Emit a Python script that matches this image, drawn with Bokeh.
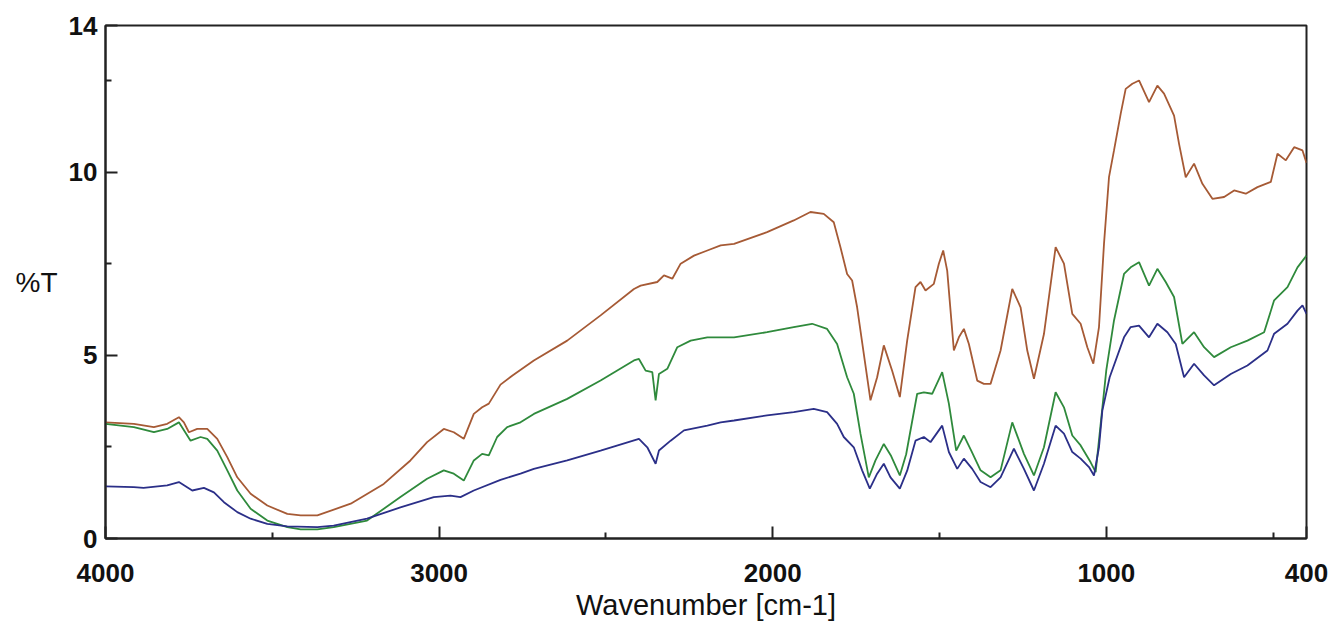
from bokeh.plotting import figure
from bokeh.models import Range1d, FixedTicker, CustomJSTickFormatter
from bokeh.embed import file_html
from bokeh.resources import INLINE

# ---- data ----
brown_wn = [4000, 3915, 3855, 3815, 3780, 3765, 3750, 3725, 3695, 3665, 3635, 3605, 3565, 3515, 3455, 3415, 3365,
            3265, 3166, 3086, 3036, 2986, 2956, 2926, 2896, 2871, 2851, 2816, 2780, 2716, 2616, 2516, 2416, 2396,
            2346, 2326, 2301, 2276, 2236, 2196, 2156, 2116, 2017, 1937, 1887, 1847, 1817, 1797, 1777, 1762, 1747,
            1727, 1707, 1687, 1667, 1642, 1619, 1597, 1572, 1557, 1542, 1517, 1502, 1489, 1477, 1457, 1442, 1427,
            1412, 1387, 1367, 1347, 1317, 1282, 1257, 1237, 1217, 1187, 1152, 1127, 1102, 1077, 1057, 1039, 1022,
            1007, 992, 977, 957, 942, 922, 902, 872, 847, 827, 797, 782, 762, 737, 712, 682, 647, 617, 582, 547,
            507, 487, 462, 437, 412, 400]
brown_t = [3.17, 3.13, 3.04, 3.13, 3.31, 3.17, 2.90, 2.99, 2.99, 2.72, 2.22, 1.67, 1.22, 0.90, 0.67, 0.63, 0.63,
           0.95, 1.49, 2.13, 2.63, 2.99, 2.90, 2.72, 3.40, 3.58, 3.68, 4.20, 4.45, 4.86, 5.40, 6.09, 6.81, 6.90,
           7.00, 7.18, 7.09, 7.50, 7.72, 7.86, 8.00, 8.04, 8.36, 8.68, 8.91, 8.86, 8.63, 7.95, 7.22, 7.04, 6.31,
           5.04, 3.77, 4.40, 5.27, 4.58, 3.86, 5.40, 6.86, 7.00, 6.77, 6.95, 7.50, 7.86, 7.31, 5.13, 5.49, 5.72,
           5.31, 4.31, 4.22, 4.22, 5.13, 6.81, 6.31, 5.13, 4.36, 5.58, 7.95, 7.50, 6.13, 5.86, 5.22, 4.77, 5.77,
           8.04, 9.86, 10.59, 11.59, 12.27, 12.41, 12.50, 11.91, 12.36, 12.14, 11.54, 10.77, 9.86, 10.23, 9.68,
           9.27, 9.32, 9.50, 9.41, 9.59, 9.73, 10.50, 10.32, 10.68, 10.59, 10.25]

green_wn = [4000, 3915, 3855, 3815, 3780, 3745, 3715, 3695, 3665, 3635, 3605, 3565, 3515, 3455, 3415, 3365, 3316,
            3216, 3116, 3036, 2986, 2956, 2926, 2896, 2871, 2851, 2826, 2796, 2756, 2716, 2616, 2516, 2416, 2401,
            2381, 2361, 2351, 2341, 2316, 2286, 2246, 2196, 2116, 2017, 1937, 1882, 1837, 1807, 1777, 1757, 1737,
            1712, 1692, 1667, 1645, 1619, 1600, 1567, 1547, 1522, 1492, 1472, 1450, 1427, 1405, 1377, 1347, 1317,
            1282, 1247, 1217, 1187, 1152, 1127, 1102, 1077, 1047, 1032, 1017, 1000, 977, 947, 927, 902, 872, 847,
            822, 797, 772, 737, 707, 677, 627, 577, 527, 497, 457, 427, 400]
green_t = [3.13, 3.04, 2.90, 2.99, 3.17, 2.67, 2.77, 2.72, 2.40, 1.86, 1.31, 0.81, 0.49, 0.31, 0.25, 0.25, 0.31,
           0.49, 1.13, 1.63, 1.86, 1.77, 1.58, 2.13, 2.31, 2.27, 2.77, 3.04, 3.17, 3.40, 3.81, 4.31, 4.86, 4.90,
           4.58, 4.54, 3.77, 4.49, 4.63, 5.22, 5.40, 5.49, 5.49, 5.63, 5.77, 5.86, 5.72, 5.31, 4.40, 3.95, 2.86,
           1.67, 2.13, 2.58, 2.25, 1.72, 2.30, 3.95, 3.99, 3.95, 4.54, 3.68, 2.40, 2.81, 2.40, 1.86, 1.67, 1.86,
           3.17, 2.31, 1.72, 2.49, 3.99, 3.58, 2.81, 2.54, 2.08, 1.81, 3.13, 4.60, 5.95, 7.22, 7.40, 7.54, 6.90,
           7.36, 7.00, 6.59, 5.31, 5.63, 5.22, 4.95, 5.22, 5.40, 5.63, 6.50, 6.86, 7.40, 7.72]

blue_wn = [4000, 3915, 3886, 3815, 3780, 3740, 3705, 3675, 3645, 3605, 3565, 3515, 3455, 3365, 3316, 3216, 3116,
           3016, 2966, 2936, 2896, 2816, 2756, 2716, 2616, 2516, 2401, 2376, 2351, 2341, 2306, 2266, 2196, 2156,
           2116, 2017, 1937, 1877, 1837, 1807, 1787, 1757, 1732, 1709, 1687, 1667, 1647, 1619, 1597, 1572, 1547,
           1527, 1492, 1472, 1447, 1427, 1402, 1377, 1347, 1317, 1277, 1247, 1217, 1187, 1152, 1127, 1102, 1077,
           1052, 1037, 1022, 1012, 990, 947, 927, 902, 872, 847, 817, 792, 767, 737, 707, 677, 627, 577, 517, 497,
           457, 427, 412, 400]
blue_t = [1.42, 1.40, 1.38, 1.45, 1.54, 1.31, 1.38, 1.26, 0.99, 0.72, 0.54, 0.40, 0.33, 0.31, 0.35, 0.54, 0.85,
          1.13, 1.17, 1.13, 1.31, 1.60, 1.77, 1.90, 2.13, 2.40, 2.72, 2.49, 2.04, 2.40, 2.67, 2.95, 3.08, 3.17,
          3.22, 3.36, 3.45, 3.54, 3.45, 3.13, 2.77, 2.49, 1.86, 1.36, 1.77, 2.04, 1.67, 1.36, 1.85, 2.67, 2.77,
          2.63, 3.08, 2.36, 1.90, 2.18, 1.90, 1.54, 1.40, 1.67, 2.45, 1.90, 1.31, 2.04, 3.08, 2.86, 2.36, 2.18,
          1.95, 1.72, 2.49, 3.49, 4.40, 5.49, 5.77, 5.81, 5.49, 5.86, 5.63, 5.31, 4.40, 4.77, 4.45, 4.18, 4.49,
          4.72, 5.13, 5.59, 5.86, 6.22, 6.36, 6.13]

x_ticks = [4000, 3000, 2000, 1000, 400]
x_minor = [3500, 2500, 1500, 500]
y_ticks = [0, 5, 10, 14]
y_minor = [2.5, 7.5, 12.5]

FONT = "Liberation Sans"

p = figure(width=1331, height=626, output_backend="svg", toolbar_location=None,
           x_range=Range1d(4000, 400), y_range=Range1d(0, 14),
           min_border_left=105, min_border_right=25, min_border_top=25, min_border_bottom=88)
p.background_fill_color = "white"
p.border_fill_color = "white"
p.outline_line_color = "#222222"
p.outline_line_width = 2
p.grid.visible = False

p.line(brown_wn, brown_t, line_color="#a65a35", line_width=1.8)
p.line(green_wn, green_t, line_color="#2f8a3c", line_width=1.8)
p.line(blue_wn, blue_t, line_color="#2b2f88", line_width=1.8)

for ax in (p.xaxis[0], p.yaxis[0]):
    ax.axis_line_color = "#222222"
    ax.axis_line_width = 2
    ax.major_tick_line_color = "#222222"
    ax.minor_tick_line_color = "#222222"
    ax.major_tick_line_width = 2
    ax.minor_tick_line_width = 2
    ax.major_tick_in = 12
    ax.major_tick_out = 0
    ax.minor_tick_in = 6
    ax.minor_tick_out = 0
    ax.major_label_text_font = FONT
    ax.major_label_text_font_style = "bold"
    ax.major_label_text_font_size = "26px"
    ax.major_label_text_color = "#111111"
    ax.axis_label_text_font = FONT
    ax.axis_label_text_font_style = "normal"
    ax.axis_label_text_color = "#111111"

p.xaxis.ticker = FixedTicker(ticks=x_ticks, minor_ticks=x_minor)
p.yaxis.ticker = FixedTicker(ticks=y_ticks, minor_ticks=y_minor)
p.xaxis.formatter = CustomJSTickFormatter(code="return tick.toFixed(0);")
p.yaxis.formatter = CustomJSTickFormatter(code="return tick.toFixed(0);")

p.xaxis.axis_label = "Wavenumber [cm-1]"
p.xaxis.axis_label_text_font_size = "29px"
p.xaxis.major_label_standoff = 25
p.xaxis.axis_label_standoff = 4

p.yaxis.axis_label = "%T"
p.yaxis.axis_label_text_font_size = "28px"
p.yaxis.axis_label_orientation = "horizontal"
p.yaxis.major_label_standoff = 8
p.yaxis.axis_label_standoff = 8

open("out.html", "w").write(file_html(p, INLINE))
